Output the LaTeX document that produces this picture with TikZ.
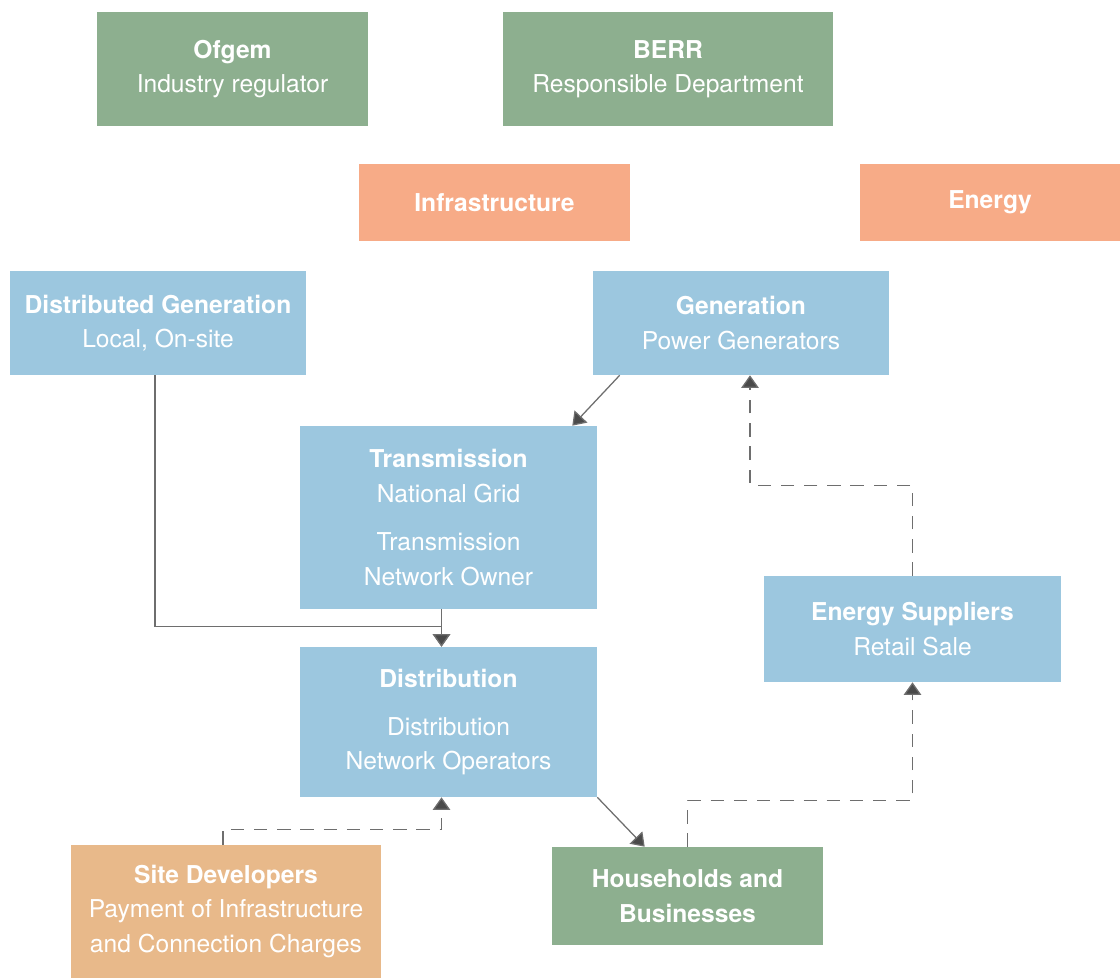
\documentclass[tikz,border=0pt]{standalone}
\usepackage{fontspec}
\setmainfont{TeX Gyre Heros}
\usepackage{xcolor}
\usetikzlibrary{positioning,calc,arrows.meta}

\definecolor{regGreen}{HTML}{8DAF8F}
\definecolor{roleSalmon}{HTML}{F7AB87}
\definecolor{gridBlue}{HTML}{9CC7DF}
\definecolor{devOrange}{HTML}{E8B98A}
\definecolor{lineGray}{HTML}{6E6E6E}
\definecolor{tipGray}{HTML}{4A4A4A}

\tikzset{
  box/.style={rectangle, inner sep=0pt, align=center, text=white,
    font=\fontsize{17.5}{24.5}\selectfont},
  conn/.style={line width=0.9pt, draw=lineGray,
    -{Triangle[width=12.5pt, length=9pt, fill=tipGray]}},
  dashconn/.style={conn, dash pattern=on 9.5pt off 7pt}
}

\begin{document}
\begin{tikzpicture}[x=0.025cm, y=-0.025cm]
    \useasboundingbox (0,0) rectangle (1120,978);

    % bodies
    \node [box, fill=regGreen, minimum width=6.775cm, minimum height=2.85cm] (ofgem) at (232.5,69)
        {\textbf{Ofgem}\\Industry regulator};
    \node [box, fill=regGreen, minimum width=8.25cm, minimum height=2.85cm] (berr) at (668,69)
        {\textbf{BERR}\\Responsible Department};

    % roles
    \node [box, fill=roleSalmon, minimum width=6.775cm, minimum height=1.925cm] (infra) at (494.5,202.5)
        {\textbf{Infrastructure}};
    \node [box, fill=roleSalmon, minimum width=6.5cm, minimum height=1.925cm] (energy) at (990,202.5)
        {\textbf{Energy}};

    % network
    \node [box, fill=gridBlue, minimum width=7.4cm, minimum height=2.6cm] (dg) at (158,323)
        {\textbf{Distributed Generation}\\Local, On-site};
    \node [box, fill=gridBlue, minimum width=7.4cm, minimum height=2.6cm] (gen) at (741,323)
        {\textbf{Generation}\\Power Generators};
    \node [box, fill=gridBlue, minimum width=7.425cm, minimum height=4.575cm] (trans) at (448.5,517.5)
        {\textbf{Transmission}\\National Grid\\[10pt]Transmission\\Network Owner};
    \node [box, fill=gridBlue, minimum width=7.425cm, minimum height=2.65cm] (supp) at (912.5,629)
        {\textbf{Energy Suppliers}\\Retail Sale};
    \node [box, fill=gridBlue, minimum width=7.425cm, minimum height=3.75cm] (dist) at (448.5,722)
        {\textbf{Distribution}\\[10pt]Distribution\\Network Operators};

    % customers
    \node [box, fill=devOrange, minimum width=7.75cm, minimum height=3.325cm] (site) at (226,911.5)
        {\textbf{Site Developers}\\Payment of Infrastructure\\and Connection Charges};
    \node [box, fill=regGreen, minimum width=6.775cm, minimum height=2.45cm] (hh) at (687.5,896)
        {\textbf{Households and}\\\textbf{Businesses}};

    % flows
    \draw [conn] ($(gen.south west)+(27,0)$) -- ($(trans.north east)+(-25,0)$);
    \draw [conn] ($(trans.south)+(-7,0)$) -- ($(dist.north)+(-7,0)$);
    \draw [conn] ($(dg.south)+(-3,0)$) |- ($(dist.north)+(-7,-20)$) -- ($(dist.north)+(-7,0)$);
    \draw [conn] (dist.south east) -- ($(hh.north west)+(93,0)$);

    % payments
    \draw [dashconn] (hh.north) |- ($(supp.south)+(0,118)$) -- (supp.south);
    \draw [dashconn] (supp.north) |- ($(gen.south)+(9,110)$) -- ($(gen.south)+(9,0)$);
    \draw [dashconn] ($(site.north)+(-3,0)$) |- ($(dist.south)+(-7,32)$) -- ($(dist.south)+(-7,0)$);
\end{tikzpicture}
\end{document}
